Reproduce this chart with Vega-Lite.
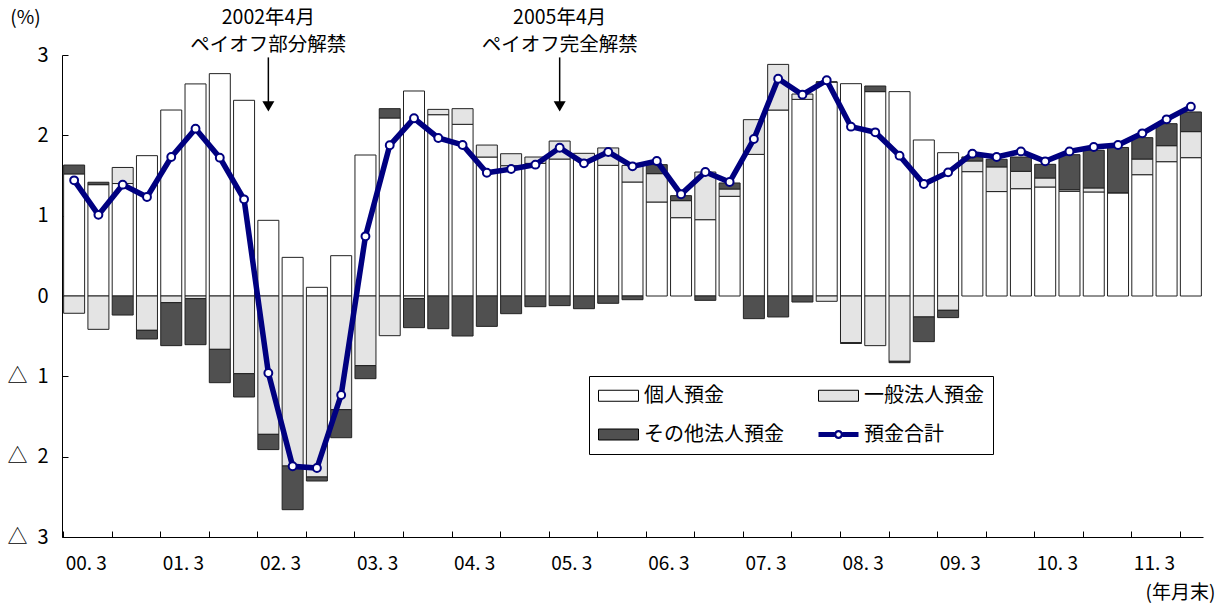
{
  "$schema": "https://vega.github.io/schema/vega-lite/v6.json",
  "width": 1141,
  "height": 482,
  "autosize": {"type": "none"},
  "padding": {"left": 62, "top": 55, "right": 23, "bottom": 66},
  "background": "#ffffff",
  "config": {
    "font": "Noto Sans CJK JP",
    "view": {"stroke": null},
    "axis": {"domainColor": "#000", "tickColor": "#000", "labelColor": "#000", "titleColor": "#000", "grid": false, "tickSize": -6, "labelFont": "Noto Sans CJK JP", "titleFont": "Noto Sans CJK JP", "titleFontWeight": "normal", "labelFontSize": 19, "titleFontSize": 19, "domainWidth": 1, "tickWidth": 1},
    "text": {"font": "Noto Sans CJK JP"}
  },
  "datasets": {
    "d": [
      {"q": "00.3", "個人預金": 1.52, "一般法人預金": -0.215, "その他法人預金": 0.11, "預金合計": 1.44},
      {"q": "00.6", "個人預金": 1.386, "一般法人預金": -0.415, "その他法人預金": 0.03, "預金合計": 1.01},
      {"q": "00.9", "個人預金": 1.40, "一般法人預金": 0.20, "その他法人預金": -0.237, "預金合計": 1.386},
      {"q": "00.12", "個人預金": 1.747, "一般法人預金": -0.427, "その他法人預金": -0.108, "預金合計": 1.232},
      {"q": "01.3", "個人預金": 2.315, "一般法人預金": -0.083, "その他法人預金": -0.535, "預金合計": 1.73},
      {"q": "01.6", "個人預金": 2.64, "一般法人預金": -0.033, "その他法人預金": -0.573, "預金合計": 2.083},
      {"q": "01.9", "個人預金": 2.768, "一般法人預金": -0.664, "その他法人預金": -0.415, "預金合計": 1.722},
      {"q": "01.12", "個人預金": 2.436, "一般法人預金": -0.967, "その他法人預金": -0.29, "預金合計": 1.203},
      {"q": "02.3", "個人預金": 0.942, "一般法人預金": -1.722, "その他法人預金": -0.19, "預金合計": -0.958},
      {"q": "02.6", "個人預金": 0.481, "一般法人預金": -2.116, "その他法人預金": -0.544, "預金合計": -2.12},
      {"q": "02.9", "個人預金": 0.108, "一般法人預金": -2.253, "その他法人預金": -0.05, "預金合計": -2.141},
      {"q": "02.12", "個人預金": 0.502, "一般法人預金": -1.415, "その他法人預金": -0.349, "預金合計": -1.232},
      {"q": "03.3", "個人預金": 1.755, "一般法人預金": -0.867, "その他法人預金": -0.162, "預金合計": 0.743},
      {"q": "03.6", "個人預金": 2.216, "一般法人預金": -0.494, "その他法人預金": 0.116, "預金合計": 1.876},
      {"q": "03.9", "個人預金": 2.552, "一般法人預金": -0.033, "その他法人預金": -0.361, "預金合計": 2.212},
      {"q": "03.12", "個人預金": 2.257, "一般法人預金": 0.066, "その他法人預金": -0.407, "預金合計": 1.967},
      {"q": "04.3", "個人預金": 2.137, "一般法人預金": 0.195, "その他法人預金": -0.498, "預金合計": 1.88},
      {"q": "04.6", "個人預金": 1.73, "一般法人預金": 0.149, "その他法人預金": -0.378, "預金合計": 1.535},
      {"q": "04.9", "個人預金": 1.622, "一般法人預金": 0.149, "その他法人預金": -0.22, "預金合計": 1.581},
      {"q": "04.12", "個人預金": 1.651, "一般法人預金": 0.079, "その他法人預金": -0.133, "預金合計": 1.635},
      {"q": "05.3", "個人預金": 1.705, "一般法人預金": 0.224, "その他法人預金": -0.12, "預金合計": 1.846},
      {"q": "05.6", "個人預金": 1.697, "一般法人預金": 0.079, "その他法人預金": -0.158, "預金合計": 1.651},
      {"q": "05.9", "個人預金": 1.627, "一般法人預金": 0.216, "その他法人預金": -0.091, "預金合計": 1.793},
      {"q": "05.12", "個人預金": 1.419, "一般法人預金": 0.207, "その他法人預金": -0.046, "預金合計": 1.614},
      {"q": "06.3", "個人預金": 1.17, "一般法人預金": 0.353, "その他法人預金": 0.112, "預金合計": 1.68},
      {"q": "06.6", "個人預金": 0.975, "一般法人預金": 0.212, "その他法人預金": 0.062, "預金合計": 1.266},
      {"q": "06.9", "個人預金": 0.95, "一般法人預金": 0.593, "その他法人預金": -0.054, "預金合計": 1.544},
      {"q": "06.12", "個人預金": 1.241, "一般法人預金": 0.091, "その他法人預金": 0.075, "預金合計": 1.419},
      {"q": "07.3", "個人預金": 1.763, "一般法人預金": 0.432, "その他法人預金": -0.282, "預金合計": 1.954},
      {"q": "07.6", "個人預金": 2.315, "一般法人預金": 0.568, "その他法人預金": -0.261, "預金合計": 2.705},
      {"q": "07.9", "個人預金": 2.448, "一般法人預金": 0.066, "その他法人預金": -0.075, "預金合計": 2.506},
      {"q": "07.12", "個人預金": 2.664, "一般法人預金": -0.066, "その他法人預金": 0, "預金合計": 2.685},
      {"q": "08.3", "個人預金": 2.643, "一般法人預金": -0.581, "その他法人預金": -0.01, "預金合計": 2.108},
      {"q": "08.6", "個人預金": 2.544, "一般法人預金": -0.618, "その他法人預金": 0.07, "預金合計": 2.037},
      {"q": "08.9", "個人預金": 2.544, "一般法人預金": -0.813, "その他法人預金": -0.017, "預金合計": 1.747},
      {"q": "08.12", "個人預金": 1.942, "一般法人預金": -0.261, "その他法人預金": -0.307, "預金合計": 1.394},
      {"q": "09.3", "個人預金": 1.784, "一般法人預金": -0.178, "その他法人預金": -0.091, "預金合計": 1.539},
      {"q": "09.6", "個人預金": 1.548, "一般法人預金": 0.133, "その他法人預金": 0.05, "預金合計": 1.772},
      {"q": "09.9", "個人預金": 1.30, "一般法人預金": 0.307, "その他法人預金": 0.095, "預金合計": 1.73},
      {"q": "09.12", "個人預金": 1.336, "一般法人預金": 0.216, "その他法人預金": 0.178, "預金合計": 1.80},
      {"q": "10.3", "個人預金": 1.357, "一般法人預金": 0.112, "その他法人預金": 0.17, "預金合計": 1.676},
      {"q": "10.6", "個人預金": 1.303, "一般法人預金": 0.02, "その他法人預金": 0.436, "預金合計": 1.80},
      {"q": "10.9", "個人預金": 1.295, "一般法人預金": 0.05, "その他法人預金": 0.469, "預金合計": 1.855},
      {"q": "10.12", "個人預金": 1.285, "一般法人預金": 0, "その他法人預金": 0.564, "預金合計": 1.88},
      {"q": "11.3", "個人預金": 1.51, "一般法人預金": 0.195, "その他法人預金": 0.266, "預金合計": 2.025},
      {"q": "11.6", "個人預金": 1.672, "一般法人預金": 0.199, "その他法人預金": 0.274, "預金合計": 2.199},
      {"q": "11.9", "個人預金": 1.722, "一般法人預金": 0.324, "その他法人預金": 0.245, "預金合計": 2.357}
    ],
    "ann": [
      {"q": "02.3", "y": 3.455, "t": "2002年4月"},
      {"q": "02.3", "y": 3.13, "t": "ペイオフ部分解禁"},
      {"q": "05.3", "y": 3.455, "t": "2005年4月"},
      {"q": "05.3", "y": 3.13, "t": "ペイオフ完全解禁"}
    ],
    "arr": [
      {"q": "02.3", "y1": 2.97, "y2": 2.40, "yt": 2.36},
      {"q": "05.3", "y1": 2.97, "y2": 2.40, "yt": 2.36}
    ]
  },
  "encoding": {
    "x": {
      "field": "q",
      "type": "ordinal",
      "scale": {
        "domain": ["00.3","00.6","00.9","00.12","01.3","01.6","01.9","01.12","02.3","02.6","02.9","02.12","03.3","03.6","03.9","03.12","04.3","04.6","04.9","04.12","05.3","05.6","05.9","05.12","06.3","06.6","06.9","06.12","07.3","07.6","07.9","07.12","08.3","08.6","08.9","08.12","09.3","09.6","09.9","09.12","10.3","10.6","10.9","10.12","11.3","11.6","11.9"],
        "paddingInner": 0.135,
        "paddingOuter": 0.0675
      },
      "axis": {
        "title": "(年月末)",
        "values": ["00.3","00.9","01.3","01.9","02.3","02.9","03.3","03.9","04.3","04.9","05.3","05.9","06.3","06.9","07.3","07.9","08.3","08.9","09.3","09.9","10.3","10.9","11.3","11.9"],
        "bandPosition": 0,
        "labelOffset": 12.14,
        "labelAngle": 0,
        "labelAlign": "center",
        "labelBaseline": "middle",
        "labelPadding": 32,
        "labelOverlap": false,
        "labelExpr": "length(datum.value) == 4 && substring(datum.value, 3, 4) == '3' ? replace(datum.value, '.', '. ') : ''",
        "titleX": 1118,
        "titleY": 55,
        "titleAlign": "center",
        "titleBaseline": "middle",
        "titleFontSize": 19
      }
    }
  },
  "layer": [
    {
      "data": {"name": "d"},
      "transform": [{"fold": ["個人預金", "一般法人預金", "その他法人預金"], "as": ["系列", "値"]}],
      "mark": {"type": "bar", "stroke": "#222222", "strokeWidth": 1},
      "encoding": {
        "y": {
          "field": "値",
          "type": "quantitative",
          "stack": "zero",
          "scale": {"domain": [-3, 3], "nice": false, "zero": false},
          "axis": {
            "title": "(%)",
            "values": [-3, -2, -1, 0, 1, 2, 3],
            "labelExpr": "datum.value < 0 ? '△\u2002' + (-datum.value) : '' + datum.value",
            "labelFontSize": 20,
            "labelPadding": 20,
            "titleAngle": 0,
            "titleX": -37,
            "titleY": -38,
            "titleAlign": "center",
            "titleBaseline": "middle",
            "titleFontSize": 19
          }
        },
        "fill": {
          "field": "系列",
          "type": "nominal",
          "scale": {"domain": ["個人預金", "その他法人預金", "一般法人預金", "預金合計"], "range": ["#ffffff", "#505050", "#e4e4e4", "#000080"]},
          "legend": {
            "title": null,
            "orient": "none",
            "legendX": 527,
            "legendY": 321,
            "columns": 2,
            "padding": 9,
            "strokeColor": "#000000",
            "fillColor": "#ffffff",
            "rowPadding": 18,
            "columnPadding": 32,
            "symbolSize": 400,
            "symbolType": "M-1,-0.55H3V0.55H-1Z",
            "symbolStrokeColor": "#000000",
            "symbolStrokeWidth": 1,
            "labelOffset": 25,
            "labelFont": "Noto Sans CJK JP",
            "labelFontSize": 20,
            "labelColor": "#000000",
            "labelLimit": 300,
            "labelExpr": "datum.label == '一般法人預金' ? datum.label + '　' : datum.label",
            "encode": {
              "symbols": {
                "update": {
                  "shape": {"signal": "datum.value === '預金合計' ? 'M-1,-0.25H0.6V0.25H-1Z M1.4,-0.25H3V0.25H1.4Z M0.55,0A0.45,0.45,0,1,1,1.45,0A0.45,0.45,0,1,1,0.55,0Z M0.78,0A0.22,0.22,0,1,0,1.22,0A0.22,0.22,0,1,0,0.78,0Z' : 'M-1,-0.55H3V0.55H-1Z'"},
                  "stroke": {"signal": "datum.value === '預金合計' ? 'transparent' : '#000000'"},
                  "strokeWidth": {"value": 1}
                }
              }
            }
          }
        },
        "order": {"field": "系列", "sort": "descending"}
      }
    },
    {
      "data": {"name": "d"},
      "mark": {"type": "line", "color": "#000080", "strokeWidth": 5.5},
      "encoding": {"y": {"field": "預金合計", "type": "quantitative"}}
    },
    {
      "data": {"name": "d"},
      "mark": {"type": "point", "shape": "circle", "filled": true, "fill": "#ffffff", "stroke": "#000080", "strokeWidth": 2, "size": 62, "opacity": 1},
      "encoding": {"y": {"field": "預金合計", "type": "quantitative"}}
    },
    {
      "data": {"name": "arr"},
      "mark": {"type": "rule", "color": "#000000", "strokeWidth": 1.5},
      "encoding": {"y": {"field": "y1", "type": "quantitative"}, "y2": {"field": "y2"}}
    },
    {
      "data": {"name": "arr"},
      "mark": {"type": "point", "shape": "triangle-down", "filled": true, "color": "#000000", "size": 144, "opacity": 1},
      "encoding": {"y": {"field": "yt", "type": "quantitative"}}
    },
    {
      "data": {"name": "ann"},
      "mark": {"type": "text", "fontSize": 19.5, "align": "center", "baseline": "middle", "color": "#000000"},
      "encoding": {"y": {"field": "y", "type": "quantitative"}, "text": {"field": "t"}}
    }
  ]
}
